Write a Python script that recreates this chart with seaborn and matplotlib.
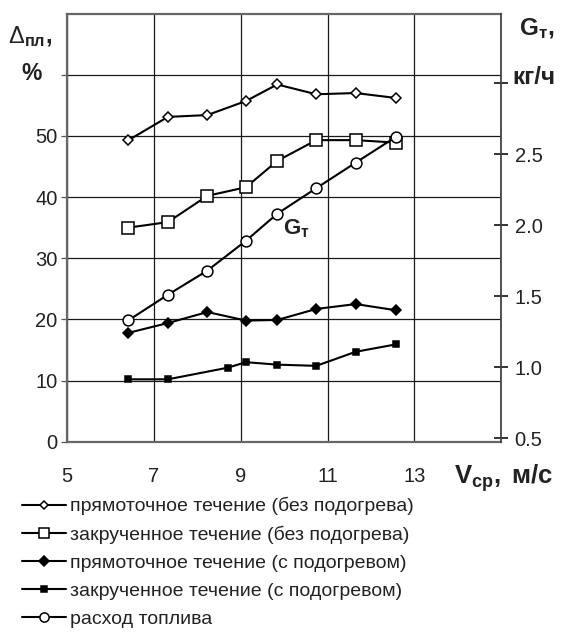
import matplotlib
matplotlib.use("Agg")
import matplotlib.pyplot as plt
import seaborn as sns
import numpy as np

# ---------------- data ----------------
x_common = [6.41, 7.32, 8.23, 9.12, 9.84, 10.74, 11.65, 12.57]
x_swirl_heat = [6.41, 7.32, 8.70, 9.12, 9.84, 10.74, 11.65, 12.57]

straight_noheat = [49.3, 53.1, 53.4, 55.7, 58.4, 56.8, 57.0, 56.2]
swirl_noheat = [35.0, 35.9, 40.2, 41.6, 45.9, 49.3, 49.3, 48.9]
straight_heat = [17.8, 19.4, 21.2, 19.8, 19.9, 21.7, 22.5, 21.5]
swirl_heat = [10.2, 10.2, 12.1, 13.0, 12.6, 12.4, 14.7, 15.9]
fuel_rate = [1.33, 1.51, 1.68, 1.89, 2.08, 2.26, 2.44, 2.62]

labels = [
    "прямоточное течение (без подогрева)",
    "закрученное течение (без подогрева)",
    "прямоточное течение (с подогревом)",
    "закрученное течение (с подогревом)",
    "расход топлива",
]

x_ticks = [5, 7, 9, 11, 13, 15]
x_ticklabels = ["5", "7", "9", "11", "13", ""]
y_ticks = [0, 10, 20, 30, 40, 50, 60]
y_ticklabels = ["0", "10", "20", "30", "40", "50", ""]
y2_ticks = [0.5, 1.0, 1.5, 2.0, 2.5, 3.0]
y2_ticklabels = ["0.5", "1.0", "1.5", "2.0", "2.5", ""]

# ---------------- style ----------------
sns.set_style("white")
plt.rcParams["font.family"] = ["Liberation Sans", "DejaVu Sans"]
plt.rcParams["mathtext.fontset"] = "custom"
plt.rcParams["mathtext.rm"] = "Liberation Sans"
plt.rcParams["mathtext.bf"] = "Liberation Sans:bold"
plt.rcParams["mathtext.it"] = "Liberation Sans:italic"

fig = plt.figure(figsize=(5.68, 6.32), dpi=100)
ax = fig.add_axes([0.1185, 0.3011, 0.7635, 0.6775])
ax2 = ax.twinx()

LW = 1.5
common = dict(color="black", linewidth=LW, markeredgecolor="black",
              markeredgewidth=1.1)

sns.lineplot(x=x_common, y=straight_noheat, ax=ax, marker="D", markersize=5.3,
             markerfacecolor="white", label=labels[0], **common)
sns.lineplot(x=x_common, y=swirl_noheat, ax=ax, marker="s", markersize=8.0,
             markerfacecolor="white", label=labels[1], **common)
sns.lineplot(x=x_common, y=straight_heat, ax=ax, marker="D", markersize=5.6,
             markerfacecolor="black", label=labels[2], **common)
sns.lineplot(x=x_swirl_heat, y=swirl_heat, ax=ax, marker="s", markersize=4.3,
             markerfacecolor="black", label=labels[3], **common)
sns.lineplot(x=x_common, y=fuel_rate, ax=ax2, marker="o", markersize=7.8,
             markerfacecolor="white", label=labels[4], **common)

h1, l1 = ax.get_legend_handles_labels()
h2, l2 = ax2.get_legend_handles_labels()
for a in (ax, ax2):
    if a.get_legend() is not None:
        a.get_legend().remove()

# axes limits and ticks
ax.set_xlim(5, 15)
ax.set_ylim(0, 70)
ax2.set_ylim(0.475, 3.49)

ax.set_xticks(x_ticks)
ax.set_xticklabels(x_ticklabels)
ax.set_yticks(y_ticks)
ax.set_yticklabels(y_ticklabels)
ax2.set_yticks(y2_ticks)
ax2.set_yticklabels(y2_ticklabels)

ax.set_xlabel("")
ax.set_ylabel("")
ax2.set_ylabel("")

ax.grid(True, color="#1a1a1a", linewidth=0.9)
ax.set_axisbelow(True)

TS = 14.5
ax.tick_params(axis="x", length=0, pad=18, labelsize=TS, labelcolor="#222222")
ax.tick_params(axis="y", left=True, direction="out", length=4, width=0.9,
               color="#555555", pad=3, labelsize=TS, labelcolor="#222222")
ax2.tick_params(axis="y", right=True, direction="inout", length=9.5, width=1.3,
                color="#222222", pad=5, labelsize=TS, labelcolor="#222222")

for s in ["left", "bottom", "top"]:
    ax.spines[s].set_color("#666666")
    ax.spines[s].set_linewidth(1.6)
ax.spines["right"].set_visible(False)
for s in ["left", "bottom", "top"]:
    ax2.spines[s].set_visible(False)
ax2.spines["right"].set_color("#444444")
ax2.spines["right"].set_linewidth(1.3)

# axis titles
W, H = 568.0, 632.0
def fx(px):
    return px / W
def fy(py):
    return 1 - py / H

fig.text(fx(30), fy(37), r"$\mathrm{\Delta}_{\mathbf{пл}}\mathbf{,}$",
         ha="center", va="center", fontsize=17, color="#222222")
fig.text(fx(32), fy(73), "%", ha="center", va="center", fontsize=16.5,
         fontweight="bold", color="#222222")
fig.text(fx(537), fy(29), r"$\mathbf{G_{т},}$", ha="center", va="center",
         fontsize=17.5, color="#222222")
fig.text(fx(534), fy(77), "кг/ч", ha="center", va="center", fontsize=17.5,
         fontweight="bold", color="#222222")
fig.text(fx(454), fy(478), r"$\mathbf{V_{ср},}$" + " м/с", ha="left",
         va="center", fontsize=18.5, fontweight="bold", color="#222222")
ax.text(10.29, 34.8, r"$\mathbf{G_{т}}$", ha="center", va="center",
        fontsize=16, color="#222222")

# legend
handles = h1 + h2
leg = fig.legend(handles, labels, loc="upper left",
                 bbox_to_anchor=(fx(22), fy(497)), frameon=False,
                 fontsize=14.0, handlelength=2.25, handletextpad=0.2,
                 labelspacing=0.53, borderaxespad=0, borderpad=0,
                 markerscale=0.85)
for t in leg.get_texts():
    t.set_color("#222222")

fig.savefig("out.png", dpi=100)
